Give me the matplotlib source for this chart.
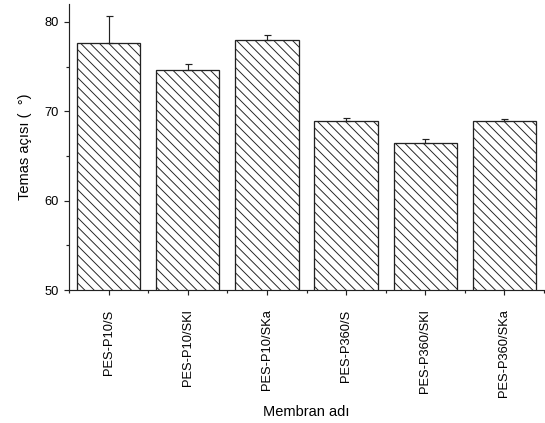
import numpy as np
import matplotlib
matplotlib.use("Agg")
import matplotlib.pyplot as plt
from matplotlib.ticker import MultipleLocator, FixedLocator

plt.rcParams['font.family'] = ['Liberation Sans', 'DejaVu Sans']
plt.rcParams['hatch.linewidth'] = 0.8

membranlar = ["PES-P10/S", "PES-P10/SKl", "PES-P10/SKa",
              "PES-P360/S", "PES-P360/SKl", "PES-P360/SKa"]
temas_acisi = [77.6, 74.6, 78.0, 68.9, 66.5, 68.9]
hata = [3.1, 0.7, 0.5, 0.4, 0.4, 0.2]

DPI = 84
fig = plt.figure(figsize=(545 / DPI, 423 / DPI), dpi=DPI)
ax = fig.add_axes([0.1266, 0.3144, 0.8716, 0.676])

x = np.arange(1, len(membranlar) + 1)
ax.bar(x, temas_acisi, width=0.8, color="white", edgecolor="#222222",
       linewidth=1.1, hatch="\\\\\\", zorder=2)
ax.errorbar(x, temas_acisi, yerr=[np.zeros(len(hata)), hata], fmt="none",
            ecolor="#222222", elinewidth=1.0, capsize=3, capthick=1.0, zorder=3)

ax.set_xlim(0.5, 6.5)
ax.set_ylim(50, 82)
ax.yaxis.set_major_locator(MultipleLocator(10))
ax.yaxis.set_minor_locator(MultipleLocator(5))
ax.set_xticks(x)
ax.set_xticklabels(membranlar, rotation=90)
ax.xaxis.set_minor_locator(FixedLocator(np.arange(0.5, 7.0, 1.0)))

for side in ("top", "right"):
    ax.spines[side].set_visible(False)
for side in ("left", "bottom"):
    ax.spines[side].set_linewidth(1.0)
    ax.spines[side].set_color("#222222")

ax.tick_params(axis="both", which="major", direction="out", length=4.5,
               width=1.0, labelsize=11, color="#222222", pad=4)
ax.tick_params(axis="both", which="minor", direction="out", length=2.5,
               width=1.0, color="#222222")
ax.tick_params(axis="x", which="major", pad=12)

ax.set_ylabel("Temas açısı (  °)", fontsize=12.5, labelpad=11)
ax.set_xlabel("Membran adı", fontsize=12.5, labelpad=7)

fig.savefig("out.png", dpi=DPI)
